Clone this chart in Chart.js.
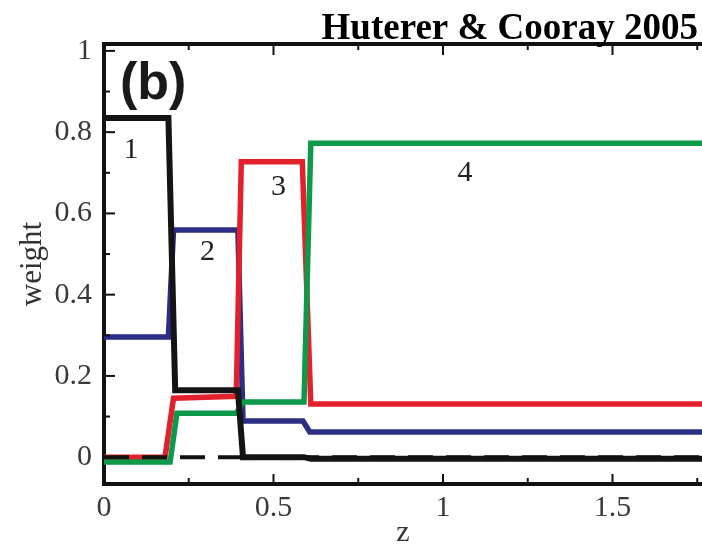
<!DOCTYPE html>
<html><head><meta charset="utf-8">
<script src="https://cdn.jsdelivr.net/npm/chart.js@4/dist/chart.umd.min.js"></script>
<style>html,body{margin:0;padding:0;background:#fff}canvas{display:block}</style>
</head><body>
<canvas id="c" width="702" height="544"></canvas>
<script>
// ---- data ----
const bin1Z = [0, 0.19, 0.21, 0.395, 0.41, 0.59, 0.61, 1.8];
const bin1W = [0.835, 0.835, 0.165, 0.165, 0.0, 0.0, -0.004, -0.004];
const bin2Z = [0, 0.19, 0.205, 0.395, 0.41, 0.587, 0.607, 1.8];
const bin2W = [0.296, 0.296, 0.559, 0.559, 0.089, 0.089, 0.062, 0.062];
const bin3Z = [0, 0.18, 0.205, 0.39, 0.405, 0.585, 0.61, 1.8];
const bin3W = [0.0, 0.0, 0.145, 0.15, 0.727, 0.727, 0.131, 0.131];
const bin4Z = [0, 0.195, 0.215, 0.39, 0.41, 0.59, 0.61, 1.8];
const bin4W = [-0.012, -0.012, 0.108, 0.108, 0.136, 0.136, 0.773, 0.773];
const zeroZ = [0, 1.8];
const zeroW = [0, 0];

const binNames = ['1', '2', '3', '4'];
const binLabelPos = [[0.08, 0.755], [0.305, 0.505], [0.515, 0.665], [1.065, 0.70]];

const xTicks = [0, 0.5, 1, 1.5];
const xTickLabels = ['0', '0.5', '1', '1.5'];
const xMinorTicks = [0.25, 0.75, 1.25, 1.75];
const yTicks = [0, 0.2, 0.4, 0.6, 0.8, 1];
const yTickLabels = ['0', '0.2', '0.4', '0.6', '0.8', '1'];
const yMinorTicks = [0.1, 0.3, 0.5, 0.7, 0.9];

const titleText = 'Huterer & Cooray 2005';
const panelText = '(b)';
const xTitle = 'z';
const yTitle = 'weight';

const pts = (zs, ws) => zs.map((z, i) => ({x: z, y: ws[i]}));
const serif = "'Liberation Serif', 'Times New Roman', serif";
Chart.defaults.font.family = serif;

const lineDs = (label, zs, ws, color, width, order, dash) => ({
  label, data: pts(zs, ws), borderColor: color, borderWidth: width,
  pointRadius: 0, tension: 0, fill: false, borderJoinStyle: 'miter',
  borderCapStyle: 'butt', order, borderDash: dash || []
});

const frame = {
  id: 'frame',
  afterDraw(chart) {
    const {ctx, chartArea: a, scales: {x, y}} = chart;
    ctx.save();
    ctx.strokeStyle = '#111';
    // top border
    ctx.lineWidth = 4;
    ctx.beginPath(); ctx.moveTo(a.left - 2, a.top); ctx.lineTo(a.right, a.top); ctx.stroke();
    // inward ticks
    ctx.lineWidth = 2;
    const tick = (x0, y0, x1, y1) => { ctx.beginPath(); ctx.moveTo(x0, y0); ctx.lineTo(x1, y1); ctx.stroke(); };
    xTicks.forEach(v => { const px = x.getPixelForValue(v); tick(px, a.bottom, px, a.bottom - 10); tick(px, a.top, px, a.top + 11); });
    xMinorTicks.forEach(v => { const px = x.getPixelForValue(v); tick(px, a.bottom, px, a.bottom - 6); tick(px, a.top, px, a.top + 6); });
    yTicks.forEach(v => { const py = y.getPixelForValue(v); tick(a.left, py, a.left + 11, py); });
    yMinorTicks.forEach(v => { const py = y.getPixelForValue(v); tick(a.left, py, a.left + 6, py); });

    // bin labels
    ctx.fillStyle = '#222';
    ctx.font = '30px ' + serif;
    ctx.textAlign = 'center';
    ctx.textBaseline = 'middle';
    binNames.forEach((t, i) => {
      ctx.fillText(t, x.getPixelForValue(binLabelPos[i][0]), y.getPixelForValue(binLabelPos[i][1]));
    });
    // panel label
    ctx.fillStyle = '#1a1a1a';
    ctx.font = "bold 52px 'Liberation Sans', Arial, sans-serif";
    ctx.textAlign = 'left';
    ctx.textBaseline = 'alphabetic';
    ctx.fillText(panelText, 120, 99);
    // figure title
    ctx.fillStyle = '#000';
    ctx.font = 'bold 37px ' + serif;
    ctx.textAlign = 'right';
    ctx.fillText(titleText, 698, 39);
    ctx.restore();
  }
};

new Chart(document.getElementById('c'), {
  type: 'line',
  data: {
    datasets: [
      lineDs('zero', zeroZ, zeroW, '#111', 4, 0, [25, 13]),
      lineDs('bin 1', bin1Z, bin1W, '#141414', 6, 1),
      lineDs('bin 4', bin4Z, bin4W, '#0c9a4a', 5.5, 2),
      lineDs('bin 3', bin3Z, bin3W, '#e3212d', 5.5, 3),
      lineDs('bin 2', bin2Z, bin2W, '#2c2d84', 5.5, 4)
    ]
  },
  plugins: [frame],
  options: {
    responsive: false,
    animation: false,
    devicePixelRatio: 1,
    layout: {padding: {top: 44, right: 0, bottom: 0, left: 0}},
    plugins: {legend: {display: false}, tooltip: {enabled: false}, title: {display: false}},
    scales: {
      x: {
        type: 'linear', min: 0, max: 1.764,
        afterBuildTicks: s => { s.ticks = xTicks.map(v => ({value: v})); },
        afterFit: s => { s.height = 60; },
        grid: {display: false, drawTicks: false},
        border: {display: true, width: 4, color: '#111'},
        ticks: {
          padding: 6, color: '#3a3a3a', font: {family: serif, size: 30},
          maxRotation: 0, autoSkip: false,
          callback: (v, i) => xTickLabels[i]
        },
        title: {display: true, text: xTitle, color: '#333', font: {family: serif, size: 30, lineHeight: 0.7}, padding: 0}
      },
      y: {
        type: 'linear', min: -0.066, max: 1.017,
        afterBuildTicks: s => { s.ticks = yTicks.map(v => ({value: v})); },
        afterFit: s => { s.width = 104; },
        grid: {display: false, drawTicks: false},
        border: {display: true, width: 4, color: '#111'},
        ticks: {
          padding: 12, color: '#3a3a3a', font: {family: serif, size: 30},
          autoSkip: false,
          callback: (v, i) => yTickLabels[i]
        },
        title: {display: true, text: yTitle, color: '#333', font: {family: serif, size: 31}, padding: {top: 14, bottom: 0}}
      }
    }
  }
});
</script>
</body></html>
